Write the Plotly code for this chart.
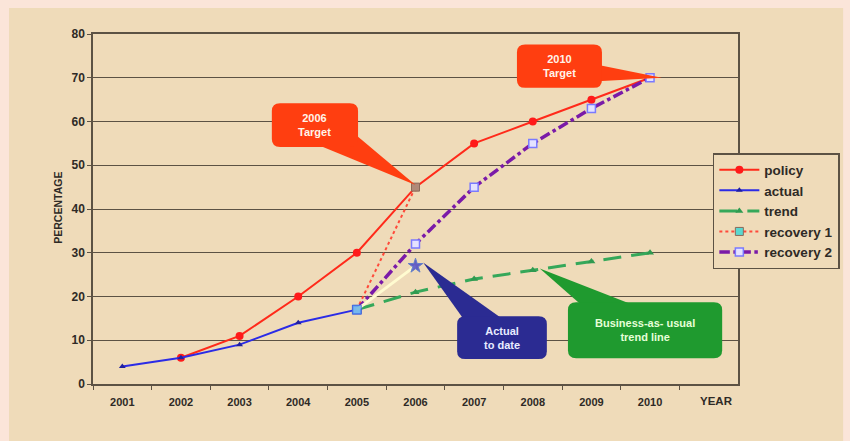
import plotly.graph_objects as go

# ---- data -------------------------------------------------------------
years = [2001, 2002, 2003, 2004, 2005, 2006, 2007, 2008, 2009, 2010]

policy_years = [2002, 2003, 2004, 2005, 2006, 2007, 2008, 2009, 2010]
policy_vals = [6, 11, 20, 30, 45, 55, 60, 65, 70]

actual_years = [2001, 2002, 2003, 2004, 2005]
actual_vals = [4, 6, 9, 14, 17]

latest_years = [2005, 2006]
latest_vals = [17, 27]

trend_years = [2005, 2006, 2007, 2008, 2009, 2010]
trend_vals = [17, 21, 24, 26, 28, 30]

rec1_years = [2005, 2006]
rec1_vals = [17, 45]

rec2_years = [2005, 2006, 2007, 2008, 2009, 2010]
rec2_vals = [17, 32, 45, 55, 63, 70]

y_ticks = [0, 10, 20, 30, 40, 50, 60, 70, 80]

# ---- style ------------------------------------------------------------
PAGE = "#fbe5d9"
PANEL = "#efdbb9"
GRID = "#5c5244"
TXT = "#2e2a26"
FONT = "Liberation Sans, Arial, sans-serif"

fig = go.Figure()

fig.add_trace(go.Scatter(
    x=policy_years, y=policy_vals, name="policy", mode="lines+markers",
    line=dict(color="#ff2a1a", width=2),
    marker=dict(symbol="circle", size=8, color="#ff1a1a")))

fig.add_trace(go.Scatter(
    x=actual_years, y=actual_vals, name="actual", mode="lines+markers",
    line=dict(color="#2b2be6", width=2),
    marker=dict(symbol="triangle-up", size=6, color="#2020a0")))

fig.add_trace(go.Scatter(
    x=trend_years, y=trend_vals, name="trend", mode="lines+markers",
    line=dict(color="#35a85a", width=3, dash="18px,10px"),
    marker=dict(symbol="triangle-up", size=7, color="#2f9a50")))

fig.add_trace(go.Scatter(
    x=rec1_years, y=rec1_vals, name="recovery 1", mode="lines+markers",
    line=dict(color="#ff4a3a", width=2, dash="dot"),
    marker=dict(symbol="square", size=8, color=["#5ad8d0", "#b08a78"],
                line=dict(color="#8a6a5a", width=1))))

fig.add_trace(go.Scatter(
    x=rec2_years, y=rec2_vals, name="recovery 2", mode="lines+markers",
    line=dict(color="#7a1aa8", width=3.5, dash="dashdot"),
    marker=dict(symbol="square", size=8, color="#e4e2ff",
                line=dict(color="#7a7aff", width=1.5))))

# latest actual reading, drawn last so it sits on top
fig.add_trace(go.Scatter(
    x=latest_years, y=latest_vals, showlegend=False, mode="lines+markers",
    line=dict(color="#fffbd0", width=3),
    marker=dict(symbol=["square", "star"], size=[9, 11],
                color=["#4aa6e8", "#2a2ac8"],
                line=dict(color="#2a5ad0", width=1))))

# ---- callout bubbles --------------------------------------------------
RX, RY = 0.14, 1.8  # corner radius in axis units


def rounded_box(x0, x1, y0, y1):
    return (f"M {x0+RX},{y1} L {x1-RX},{y1} Q {x1},{y1} {x1},{y1-RY} "
            f"L {x1},{y0+RY} Q {x1},{y0} {x1-RX},{y0} L {x0+RX},{y0} "
            f"Q {x0},{y0} {x0},{y0+RY} L {x0},{y1-RY} Q {x0},{y1} {x0+RX},{y1} Z")


callouts = [
    dict(box=(2003.55, 2005.02, 54.2, 64.2), base=((2004.35, 54.6), (2005.02, 56.5)),
         tip=(2006.0, 45.5), color="#ff3e10", text="<b>2006<br>Target</b>", fc="#fff4ea"),
    dict(box=(2007.73, 2009.18, 67.7, 77.6), base=((2009.1, 73.0), (2009.1, 69.2)),
         tip=(2010.2, 70.0), color="#ff3e10", text="<b>2010<br>Target</b>", fc="#fff4ea"),
    dict(box=(2006.71, 2008.24, 5.7, 15.5), base=((2006.8, 15.2), (2007.45, 15.2)),
         tip=(2006.13, 27.8), color="#2b2b92", text="<b>Actual<br>to date</b>", fc="#e8ecff"),
    dict(box=(2008.6, 2011.23, 5.9, 18.7), base=((2008.8, 18.4), (2009.65, 18.4)),
         tip=(2008.12, 26.4), color="#1f9a2f", text="<b>Business-as- usual<br>trend line</b>",
         fc="#e6ffd8"),
]

shapes = [
    # tan panel inside the pink page border
    dict(type="rect", xref="paper", yref="paper", x0=-0.1302, x1=1.163, y0=-0.163, y1=1.074,
         fillcolor=PANEL, line=dict(width=0), layer="below"),
]
annotations = []
for c in callouts:
    x0, x1, y0, y1 = c["box"]
    (bx0, by0), (bx1, by1) = c["base"]
    tx, ty = c["tip"]
    shapes.append(dict(type="path", xref="x", yref="y",
                       path=f"M {bx0},{by0} L {tx},{ty} L {bx1},{by1} Z",
                       fillcolor=c["color"], line=dict(width=0), layer="above"))
    shapes.append(dict(type="path", xref="x", yref="y", path=rounded_box(x0, x1, y0, y1),
                       fillcolor=c["color"], line=dict(width=0), layer="above"))
    annotations.append(dict(x=(x0 + x1) / 2, y=(y0 + y1) / 2, xref="x", yref="y",
                            text=c["text"], showarrow=False,
                            font=dict(family=FONT, size=11, color=c["fc"])))

annotations.append(dict(x=0.995, y=-0.07, xref="paper", yref="paper", text="<b>YEAR</b>",
                        showarrow=False, font=dict(family=FONT, size=11.5, color=TXT)))
annotations.append(dict(x=-0.067, y=0.503, xref="paper", yref="paper",
                        text="<b>PERCENTAGE</b>", textangle=-90, showarrow=False,
                        font=dict(family=FONT, size=10.5, color=TXT)))

fig.update_layout(
    width=850, height=441,
    margin=dict(l=93, r=112, t=34, b=57, autoexpand=False),
    paper_bgcolor=PAGE, plot_bgcolor=PANEL,
    font=dict(family=FONT, color=TXT),
    shapes=shapes, annotations=annotations,
    legend=dict(x=0.961, y=0.66, xanchor="left", yanchor="top",
                bgcolor=PANEL, bordercolor=GRID, borderwidth=1.5,
                font=dict(family=FONT, size=13.5, color=TXT, weight="bold"),
                itemwidth=40, tracegroupgap=0),
    xaxis=dict(range=[2000.5, 2011.5], tickvals=years,
               ticktext=[f"<b>{y}</b>" for y in years],
               tickfont=dict(family=FONT, size=11, color=TXT),
               ticks="", ticklabelstandoff=7, showgrid=False, zeroline=False,
               showline=True, linecolor=GRID, linewidth=1.5, mirror=True,
               minor=dict(tickvals=[y + 0.5 for y in [2000] + years], ticks="outside",
                          ticklen=4, tickcolor=GRID, showgrid=False)),
    yaxis=dict(range=[0, 80], tickvals=y_ticks,
               ticktext=[f"<b>{v}</b>" for v in y_ticks],
               tickfont=dict(family=FONT, size=12, color=TXT),
               ticks="outside", ticklen=4, tickcolor=GRID,
               showgrid=True, gridcolor=GRID, gridwidth=1.3, zeroline=False,
               showline=True, linecolor=GRID, linewidth=1.5, mirror=True),
)

fig.write_html("out.html")
